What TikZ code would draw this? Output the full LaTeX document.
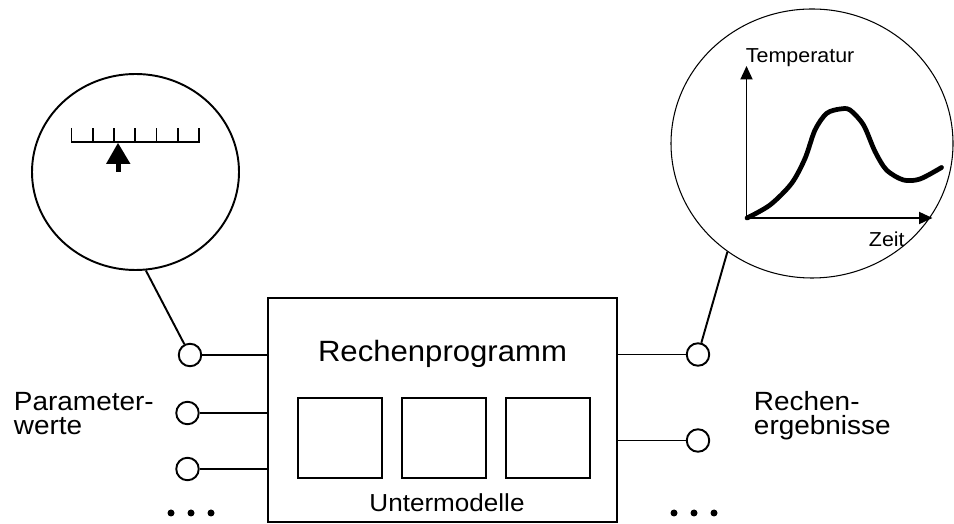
\documentclass[tikz,border=0pt]{standalone}
\usepackage{fontspec}
\setmainfont{Liberation Sans}[FakeStretch=1.06]
\usepackage{tikz}
\usetikzlibrary{shapes.geometric,positioning,arrows.meta}

\begin{document}
\begin{tikzpicture}[line width=1.1pt,
    port/.style={circle, draw, fill=white, minimum size=0.45cm, inner sep=0pt},
    submodel/.style={draw, minimum width=1.68cm, minimum height=1.6cm, inner sep=0pt},
    lens/.style={draw, ellipse, inner sep=0pt},
    label/.style={font=\fontsize{15}{14.2}\selectfont, align=left, anchor=base west, inner sep=0pt}]
    \useasboundingbox (0,0) rectangle (19.08,10.48);

    % Program box
    \node[draw, minimum width=6.98cm, minimum height=4.48cm, inner sep=0pt] (prog) at (8.85,2.28) {};
    \node[anchor=base, inner sep=0pt, font=\fontsize{16.7}{20}\selectfont] (progname) at (8.85,3.24) {Rechenprogramm};
    \node[submodel] (sub2) at (8.88,1.72) {};
    \node[submodel, left=0.37cm of sub2] (sub1) {};
    \node[submodel, right=0.37cm of sub2] (sub3) {};
    \node[anchor=base, inner sep=0pt, font=\fontsize{14}{16}\selectfont] (subname) at (8.94,0.24) {Untermodelle};

    % Inputs
    \node[port] (p1) at (3.8,3.38) {};
    \node[port] (p2) at (3.75,2.22) {};
    \node[port] (p3) at (3.75,1.1) {};
    \draw (p1) -- (p1 -| prog.west);
    \draw (p2) -- (p2 -| prog.west);
    \draw (p3) -- (p3 -| prog.west);
    \foreach \x in {3.42,3.82,4.22} \fill (\x,0.22) circle (0.07);
    \node[label] (inlabel) at (0.26,1.78) {Parameter-\\werte};

    % Outputs
    \node[port] (q1) at (13.96,3.39) {};
    \node[port] (q2) at (13.96,1.67) {};
    \draw (q1) -- (q1 -| prog.east);
    \draw (q2) -- (q2 -| prog.east);
    \foreach \x in {13.48,13.88,14.28} \fill (\x,0.22) circle (0.07);
    \node[label] (outlabel) at (15.06,1.78) {Rechen-\\ergebnisse};

    % Gauge
    \node[lens, minimum width=4.14cm, minimum height=3.92cm] (gauge) at (2.71,7.04) {};
    \draw (1.43,7.92) -- (1.43,7.64) -- (3.98,7.64) -- (3.98,7.92);
    \foreach \i in {1,...,5} \draw (1.43+\i*0.425,7.64) -- ++(0,0.28);
    \fill (2.36,7.62) -- (2.12,7.2) -- (2.61,7.2) -- cycle;
    \fill (2.31,7.21) rectangle (2.41,7.04);
    \draw (gauge.-84) -- (p1);

    % Result graph
    \node[lens, line width=0.6pt, minimum width=5.64cm, minimum height=5.38cm] (graph) at (16.24,7.61) {};
    \coordinate (origin) at (14.93,6.12);
    \coordinate (ytip) at (14.93,9.16);
    \coordinate (xtip) at (18.65,6.12);
    \draw[-{Triangle[length=2.7mm,width=2.4mm]}] (origin) -- (ytip);
    \draw[-{Triangle[length=2.7mm,width=2.4mm]}] (origin) -- (xtip);
    \draw[line width=2.7pt, line cap=round] plot[smooth] coordinates {(14.94,6.12) (15.4,6.38) (15.83,6.81) (16.1,7.31) (16.3,7.88) (16.53,8.21) (16.8,8.3) (17.0,8.28) (17.27,7.98) (17.5,7.45) (17.73,7.08) (18.07,6.88) (18.4,6.9) (18.83,7.13)};
    \node[anchor=base west, inner sep=0pt, font=\fontsize{11.5}{14}\selectfont] (ylabel) at (14.9,9.22) {Temperatur};
    \node[anchor=base west, inner sep=0pt, font=\fontsize{11.5}{14}\selectfont] (xlabel) at (17.36,5.54) {Zeit};
    \draw (graph.-128) -- (q1);
\end{tikzpicture}
\end{document}
